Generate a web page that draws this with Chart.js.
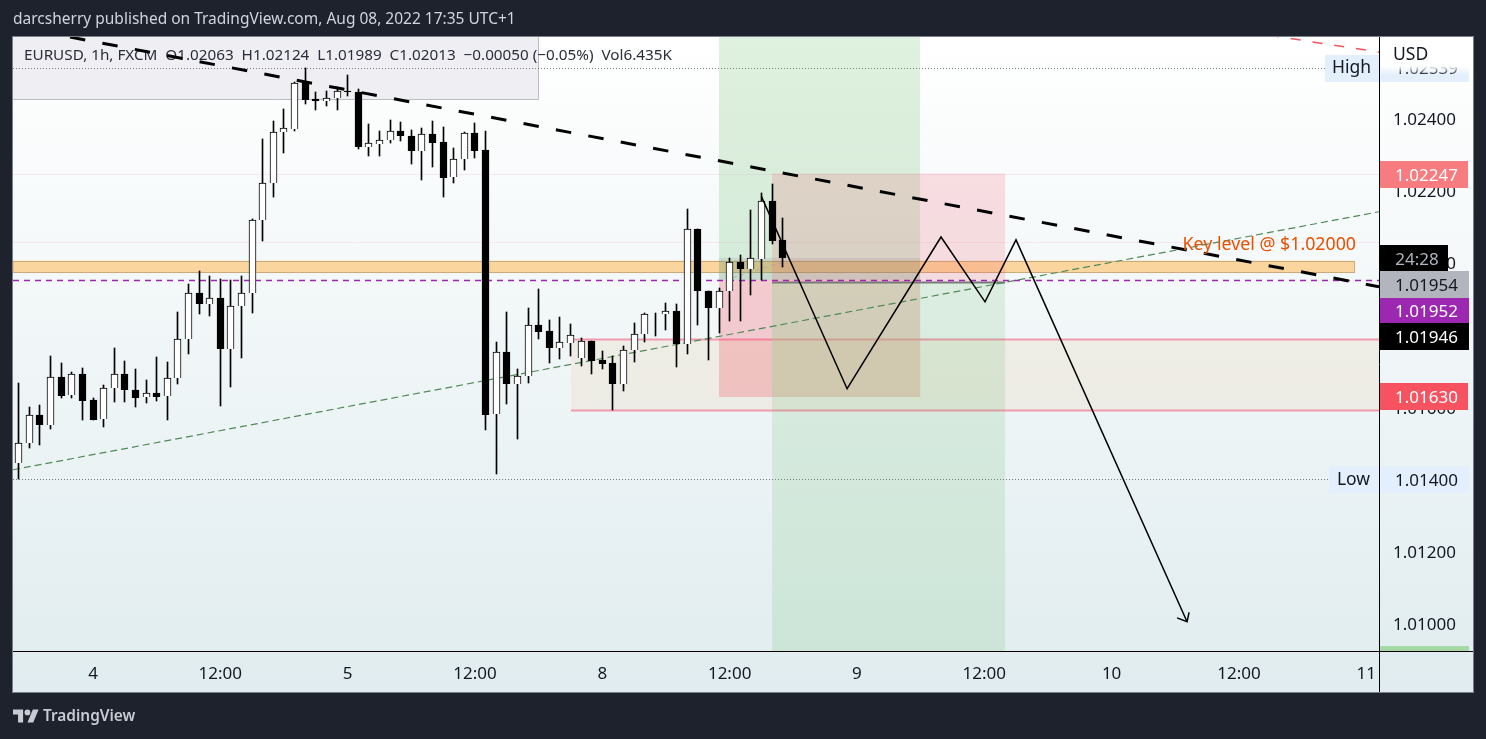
<!DOCTYPE html>
<html>
<head>
<meta charset="utf-8">
<title>EURUSD 1h</title>
<script src="https://cdn.jsdelivr.net/npm/chart.js@4"></script>
<style>
  html, body { margin: 0; padding: 0; background: #1e222d; overflow: hidden; }
  body { width: 1486px; height: 739px; position: relative; font-family: "Noto Sans", sans-serif; }
  #chart { position: absolute; left: 0; top: 0; }
  #title { position: absolute; left: 13px; top: 7px; color: #d1d4dc; font-size: 15.5px; white-space: nowrap; }
  #brand { position: absolute; left: 13px; top: 705px; color: #c8cbd3; font-size: 15.4px; font-weight: 600; display: flex; align-items: center; gap: 4px; }
</style>
</head>
<body>
<canvas id="chart" width="1486" height="739"></canvas>
<div id="title">darcsherry published on TradingView.com, Aug 08, 2022 17:35 UTC+1</div>
<div id="brand">
  <svg width="26" height="20" viewBox="0 4 36 24"><path fill="#c8cbd3" d="M14 25H7V14H0V7h14v18zM28 25h-8l7.5-18h8L28 25z"/><circle fill="#c8cbd3" cx="20" cy="11" r="4"/></svg>
  <span>TradingView</span>
</div>
<script>
// ─── Data ─────────────────────────────────────────────────────────────

// bar numbers count hourly candles from Aug 4 00:00
const barIndex = [-7,-6,-5,-4,-3,-2,-1,0,1,2,3,4,5,6,7,8,9,10,11,12,13,14,15,16,17,18,19,20,21,22,23,24,25,26,27,28,29,30,31,32,33,34,35,36,37,38,39,40,41,42,43,44,45,46,47,48,49,50,51,52,53,54,55,56,57,58,59,60,61,62,63,64,65];

const opens = [1.01443,1.01499,1.01576,1.01549,1.01682,1.01632,1.01690,1.01618,1.01565,1.01652,1.01690,1.01646,1.01627,1.01638,1.01629,1.01679,1.01787,1.01915,1.01885,1.01901,1.01760,1.01879,1.01915,1.02118,1.02220,1.02362,1.02372,1.02498,1.02454,1.02448,1.02456,1.02476,1.02473,1.02320,1.02330,1.02340,1.02365,1.02352,1.02311,1.02357,1.02334,1.02237,1.02287,1.02359,1.02312,1.01579,1.01751,1.01664,1.01684,1.01826,1.01810,1.01764,1.01778,1.01736,1.01782,1.01730,1.01721,1.01664,1.01756,1.01801,1.01856,1.01857,1.01865,1.01775,1.02093,1.01921,1.01875,1.01920,1.02001,1.01983,1.02011,1.02170,1.02063];
const highs = [1.01665,1.01599,1.01605,1.01741,1.01721,1.01697,1.01707,1.01624,1.01660,1.01763,1.01726,1.01704,1.01674,1.01738,1.01724,1.01862,1.01940,1.01976,1.01962,1.01954,1.01951,1.01962,1.02120,1.02343,1.02393,1.02426,1.02502,1.02539,1.02474,1.02476,1.02488,1.02521,1.02481,1.02385,1.02365,1.02396,1.02390,1.02368,1.02374,1.02393,1.02376,1.02318,1.02362,1.02387,1.02365,1.01779,1.01862,1.01704,1.01874,1.01927,1.01841,1.01848,1.01829,1.01790,1.01782,1.01755,1.01741,1.01769,1.01832,1.01860,1.01860,1.01888,1.01885,1.02149,1.02093,1.01922,1.01929,1.02012,1.02021,1.02146,1.02193,1.02218,1.02124];
const lows = [1.01400,1.01484,1.01495,1.01539,1.01623,1.01623,1.01562,1.01564,1.01545,1.01612,1.01614,1.01600,1.01609,1.01617,1.01564,1.01664,1.01745,1.01856,1.01853,1.01603,1.01656,1.01734,1.01861,1.02061,1.02183,1.02305,1.02365,1.02441,1.02424,1.02435,1.02424,1.02461,1.02315,1.02297,1.02297,1.02333,1.02338,1.02274,1.02228,1.02266,1.02183,1.02222,1.02257,1.02289,1.01536,1.01414,1.01608,1.01511,1.01667,1.01788,1.01722,1.01733,1.01741,1.01713,1.01691,1.01705,1.01591,1.01644,1.01724,1.01780,1.01797,1.01813,1.01711,1.01747,1.01827,1.01730,1.01804,1.01838,1.01838,1.01910,1.01951,1.02052,1.01989];
const closes = [1.01499,1.01576,1.01548,1.01682,1.01631,1.01690,1.01617,1.01564,1.01652,1.01690,1.01645,1.01625,1.01638,1.01628,1.01679,1.01787,1.01915,1.01884,1.01901,1.01759,1.01879,1.01915,1.02118,1.02220,1.02362,1.02373,1.02498,1.02452,1.02447,1.02456,1.02476,1.02472,1.02320,1.02331,1.02340,1.02365,1.02350,1.02311,1.02356,1.02333,1.02236,1.02287,1.02359,1.02311,1.01578,1.01751,1.01664,1.01685,1.01826,1.01808,1.01764,1.01779,1.01799,1.01782,1.01728,1.01719,1.01664,1.01757,1.01801,1.01857,1.01858,1.01865,1.01775,1.02093,1.01920,1.01875,1.01921,1.02001,1.01983,1.02012,1.02170,1.02060,1.02013];

// axes
const xTickValues = [0,12,24,36,48,60,72,84,96,108,120];
const xTickLabels = ['4','12:00','5','12:00','8','12:00','9','12:00','10','12:00','11'];
const yTickValues = [1.010,1.012,1.014,1.016,1.018,1.020,1.022,1.024,1.026];
const xMin = -7.54, xMax = 121.2;
const yMin = 1.00922, yMax = 1.02626;

// drawn levels
const keyZoneTop = 1.02005, keyZoneBottom = 1.01973, keyZoneEndX = 118.9;
const highLevel = 1.02539, lowLevel = 1.01400;
const entryLevel = 1.01952;
const faintLevels = [1.02245, 1.02057];

const trendX = [-2.17, 121.2];
const trendY = [1.02626, 1.01933];
const redTrendX = [110.83, 121.2];
const redTrendY = [1.02631, 1.02584];
const greenTrendX = [-7.54, 121.2];
const greenTrendY = [1.01425, 1.02141];
const pathX = [63.0, 71.07, 79.92, 84.07, 86.99, 103.11];
const pathY = [1.02183, 1.01650, 1.02071, 1.01891, 1.02063, 1.01003];
const arrowX = [102.17, 103.11, 103.3];
const arrowY = [1.01014, 1.01003, 1.01029];
const faintArrowX = [60.3, 65];
const faintArrowY = [1.01958, 1.02002];

// position tools and the range box: [x0, x1, top, bottom]
const shortStopZone = [59, 77.95, 1.02626, 1.01951];
const shortTargetZone = [59, 77.95, 1.01951, 1.01627];
const entryBand = [59, 77.95, 1.02013, 1.01951];
const longStopZone = [64, 85.96, 1.02247, 1.01947];
const longTargetZone = [64, 85.96, 1.01947, 1.00922];
const toolOverlap = [64, 77.95, 1.01947, 1.01627];
const rangeBox = [45.05, 121.2, 1.01788, 1.01591];

const headerText = 'EURUSD, 1h, FXCM  O1.02063  H1.02124  L1.01989  C1.02013  −0.00050 (−0.05%)  Vol6.435K';
const keyLevelText = 'Key level @ $1.02000';
const priceLabels = ['1.02247', '1.01954', '1.01952', '1.01946', '1.01630'];
const countdownLabel = '24:28';

// ─── Helpers ──────────────────────────────────────────────────────────

const FONT = '"Noto Sans", sans-serif';

function pairs(xs, ys) {
  return xs.map((x, i) => ({ x, y: ys[i] }));
}

function lineSet(xs, ys, color, width, dash, order) {
  return {
    type: 'line',
    data: pairs(xs, ys),
    borderColor: color,
    borderWidth: width,
    borderDash: dash,
    pointRadius: 0,
    tension: 0,
    order,
  };
}

function fillBox(ctx, chart, box, color) {
  const x = chart.scales.x, y = chart.scales.y;
  const x0 = x.getPixelForValue(box[0]), x1 = x.getPixelForValue(box[1]);
  const y0 = y.getPixelForValue(box[2]), y1 = y.getPixelForValue(box[3]);
  ctx.fillStyle = color;
  ctx.fillRect(x0, y0, x1 - x0, y1 - y0);
}

function hLine(ctx, chart, value, x0, x1, color, width, dash) {
  const y = Math.round(chart.scales.y.getPixelForValue(value)) + 0.5;
  ctx.save();
  ctx.strokeStyle = color;
  ctx.lineWidth = width;
  ctx.setLineDash(dash || []);
  ctx.beginPath();
  ctx.moveTo(x0, y);
  ctx.lineTo(x1, y);
  ctx.stroke();
  ctx.restore();
}

function text(ctx, str, x, y, color, size, align) {
  ctx.fillStyle = color;
  ctx.font = size + 'px ' + FONT;
  ctx.textAlign = align || 'left';
  ctx.textBaseline = 'middle';
  ctx.fillText(str, x, y + 1);
}

function priceTag(ctx, top, height, right, bg, color, str, textX) {
  ctx.fillStyle = bg;
  ctx.fillRect(1380, top, right - 1380, height);
  text(ctx, str, textX || 1426.5, top + height / 2 + 1, color, 17, 'center');
}

// snap candles to whole pixels so the borders stay sharp
function snapBars(chart) {
  chart.data.datasets.forEach((ds, i) => {
    if (ds.type === 'line') return;
    chart.getDatasetMeta(i).data.forEach(el => {
      el.x = Math.floor(el.x) + 0.5;
      el.y = Math.round(el.y);
      el.base = Math.round(el.base);
    });
  });
}

// ─── Plugin: panel, drawings and price tags ───────────────────────────

const drawings = {
  id: 'drawings',
  beforeDraw(chart) {
    const ctx = chart.ctx;
    ctx.save();
    ctx.fillStyle = '#1e222d';
    ctx.fillRect(0, 0, 1486, 739);
    const g = ctx.createLinearGradient(0, 37, 0, 692);
    g.addColorStop(0, '#ffffff');
    g.addColorStop(1, '#e0ecef');
    ctx.fillStyle = g;
    ctx.fillRect(13, 37, 1460, 655);
    ctx.strokeStyle = '#7b7f8a';
    ctx.lineWidth = 1;
    ctx.strokeRect(12.5, 36.5, 1461, 656);
    ctx.restore();
  },
  beforeDatasetsDraw(chart) {
    const ctx = chart.ctx, area = chart.chartArea;
    snapBars(chart);
    ctx.save();
    ctx.beginPath();
    ctx.rect(area.left, area.top, area.width, area.height);
    ctx.clip();

    // header box stays behind the candles
    ctx.fillStyle = '#eeeef3';
    ctx.fillRect(13, 37, 525, 62);
    ctx.strokeStyle = '#b9bcc4';
    ctx.lineWidth = 1;
    ctx.beginPath();
    ctx.moveTo(538.5, 37);
    ctx.lineTo(538.5, 99.5);
    ctx.lineTo(13, 99.5);
    ctx.stroke();
    text(ctx, headerText, 24, 55, '#2a2e39', 15.25);

    faintLevels.forEach(v => hLine(ctx, chart, v, area.left, area.right, '#f7e6ef', 1));
    hLine(ctx, chart, highLevel, area.left, area.right, '#787b86', 1, [1, 2]);
    hLine(ctx, chart, lowLevel, area.left, area.right, '#787b86', 1, [1, 2]);

    // key level zone
    fillBox(ctx, chart, [xMin, keyZoneEndX, keyZoneTop, keyZoneBottom], '#fbd59e');
    const zx = chart.scales.x.getPixelForValue(keyZoneEndX);
    ctx.strokeStyle = '#c9ab7b';
    const zt = Math.round(chart.scales.y.getPixelForValue(keyZoneTop)) + 0.5;
    const zb = Math.round(chart.scales.y.getPixelForValue(keyZoneBottom)) + 0.5;
    ctx.strokeRect(area.left, zt, zx - area.left, zb - zt);

    // range box
    fillBox(ctx, chart, rangeBox, 'rgba(235,215,190,0.3)');
    const rx = chart.scales.x.getPixelForValue(rangeBox[0]);
    hLine(ctx, chart, rangeBox[2], rx, area.right, '#f29ab0', 2);
    hLine(ctx, chart, rangeBox[3], rx, area.right, '#f29ab0', 2);

    // position tools
    fillBox(ctx, chart, shortStopZone, 'rgba(76,175,80,0.18)');
    fillBox(ctx, chart, shortTargetZone, 'rgba(244,67,84,0.25)');
    fillBox(ctx, chart, entryBand, 'rgba(120,123,134,0.14)');
    fillBox(ctx, chart, longStopZone, 'rgba(244,67,84,0.16)');
    fillBox(ctx, chart, longTargetZone, 'rgba(76,175,80,0.14)');
    fillBox(ctx, chart, toolOverlap, 'rgba(184,228,172,0.25)');
    hLine(ctx, chart, longStopZone[3], chart.scales.x.getPixelForValue(longStopZone[0]),
      chart.scales.x.getPixelForValue(longStopZone[1]), '#787b78', 2);

    // signal line dashes on top of the tools
    hLine(ctx, chart, entryLevel, area.left, area.right, '#9c27b0', 1.3, [6, 5]);
    ctx.restore();
  },
  afterDraw(chart) {
    const ctx = chart.ctx;
    ctx.save();

    text(ctx, keyLevelText, 1356, 244, '#e65100', 17.8, 'right');

    // axis lines
    ctx.strokeStyle = '#000000';
    ctx.lineWidth = 1;
    ctx.beginPath();
    ctx.moveTo(1379.5, 37);
    ctx.lineTo(1379.5, 692);
    ctx.moveTo(13, 651.5);
    ctx.lineTo(1473, 651.5);
    ctx.stroke();

    // High tag, its value slides under the USD corner
    ctx.fillStyle = '#e3effd';
    ctx.fillRect(1325, 55, 54, 27);
    ctx.fillRect(1380, 55, 89, 27);
    text(ctx, 'High', 1351.5, 67, '#131722', 17.5, 'center');
    text(ctx, '1.02539', 1426.5, 68.5, '#131722', 17, 'center');
    const fade = ctx.createLinearGradient(0, 66, 0, 75);
    fade.addColorStop(0, 'rgba(255,255,255,1)');
    fade.addColorStop(1, 'rgba(255,255,255,0)');
    ctx.fillStyle = '#ffffff';
    ctx.fillRect(1380, 37, 93, 29);
    ctx.fillStyle = fade;
    ctx.fillRect(1380, 66, 93, 9);
    text(ctx, 'USD', 1393, 54, '#131722', 17.5);

    // Low tag
    ctx.fillStyle = '#e3effd';
    ctx.fillRect(1329, 466, 50, 27);
    ctx.fillRect(1380, 466, 89, 27);
    text(ctx, 'Low', 1353.5, 479, '#131722', 17.5, 'center');
    text(ctx, '1.01400', 1426.5, 480, '#131722', 17, 'center');

    // stacked price tags
    priceTag(ctx, 161, 27, 1468, '#f77c80', '#ffffff', priceLabels[0]);
    priceTag(ctx, 245, 27, 1448, '#000000', '#b2b5be', countdownLabel, 1417);
    priceTag(ctx, 271, 27, 1469, '#b2b5be', '#131722', priceLabels[1]);
    priceTag(ctx, 298, 25, 1469, '#9c27b0', '#ffffff', priceLabels[2]);
    priceTag(ctx, 323, 27, 1469, '#000000', '#ffffff', priceLabels[3]);
    priceTag(ctx, 383, 27, 1468, '#f7525f', '#ffffff', priceLabels[4]);

    // stop tag at the bottom of the axis
    ctx.fillStyle = '#a5d9a5';
    ctx.fillRect(1380, 646, 89, 5);
    ctx.restore();
  },
};

// ─── Chart ────────────────────────────────────────────────────────────

const wickData = barIndex.map((x, i) => ({ x, y: [lows[i], highs[i]] }));
const bodyData = barIndex.map((x, i) => ({ x, y: [Math.min(opens[i], closes[i]), Math.max(opens[i], closes[i])] }));
const bodyColors = barIndex.map((x, i) => closes[i] > opens[i] ? '#ffffff' : '#000000');

new Chart(document.getElementById('chart').getContext('2d'), {
  type: 'bar',
  data: {
    datasets: [
      lineSet(trendX, trendY, '#000000', 3, [15.5, 17.48], 1),
      lineSet(pathX, pathY, '#000000', 1.5, [], 2),
      lineSet(arrowX, arrowY, '#000000', 1.5, [], 2),
      lineSet(redTrendX, redTrendY, '#f7525f', 1.5, [10, 12], 3),
      lineSet(greenTrendX, greenTrendY, '#4f8a57', 1.2, [7, 4], 6),
      lineSet(faintArrowX, faintArrowY, 'rgba(150,150,170,0.5)', 1, [4, 4], 7),
      {
        data: bodyData,
        backgroundColor: bodyColors,
        borderColor: '#000000',
        borderWidth: 1,
        barThickness: 7,
        grouped: false,
        order: 4,
      },
      {
        data: wickData,
        backgroundColor: '#000000',
        barThickness: 1,
        grouped: false,
        order: 5,
      },
    ],
  },
  options: {
    responsive: false,
    animation: false,
    layout: { padding: { left: 13, top: 37, right: 13, bottom: 47 } },
    plugins: { legend: { display: false }, tooltip: { enabled: false } },
    scales: {
      x: {
        type: 'linear',
        offset: false,
        min: xMin,
        max: xMax,
        grid: { display: false, drawTicks: false },
        border: { display: false },
        afterBuildTicks: s => { s.ticks = xTickValues.map(value => ({ value })); },
        afterFit: s => { s.height = 41; },
        ticks: {
          autoSkip: false,
          maxRotation: 0,
          padding: 13,
          color: '#131722',
          font: { family: FONT, size: 17 },
          callback: v => xTickLabels[xTickValues.indexOf(v)],
        },
      },
      y: {
        position: 'right',
        min: yMin,
        max: yMax,
        grid: { display: false, drawTicks: false },
        border: { display: false },
        afterBuildTicks: s => { s.ticks = yTickValues.map(value => ({ value })); },
        afterFit: s => { s.width = 94; },
        ticks: {
          padding: 14,
          labelOffset: 2,
          color: '#131722',
          font: { family: FONT, size: 17 },
          callback: v => v.toFixed(5),
        },
      },
    },
  },
  plugins: [drawings],
});
</script>
</body>
</html>
